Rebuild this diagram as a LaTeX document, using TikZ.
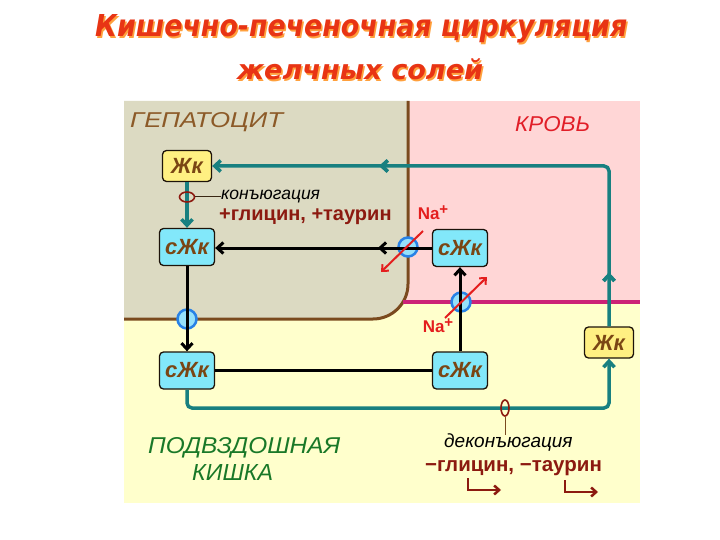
\documentclass[tikz,border=0pt]{standalone}
\usepackage{fontspec}
\usepackage{graphicx}
\setmainfont{Liberation Sans}
\newfontfamily\titlefont{DejaVu Sans}
\usetikzlibrary{arrows.meta,shapes.geometric,decorations.markings,calc}
\definecolor{bgY}{RGB}{255,255,204}
\definecolor{bgP}{RGB}{255,214,214}
\definecolor{bgH}{RGB}{220,218,194}
\definecolor{hepB}{RGB}{122,74,30}
\definecolor{magc}{RGB}{204,34,119}
\definecolor{tealc}{RGB}{24,128,128}
\definecolor{jkY}{RGB}{255,240,130}
\definecolor{szC}{RGB}{130,232,250}
\definecolor{txtB}{RGB}{122,70,20}
\definecolor{dred}{RGB}{140,26,16}
\definecolor{nared}{RGB}{228,30,30}
\definecolor{tblue}{RGB}{40,130,230}
\definecolor{tfill}{RGB}{150,225,250}
\definecolor{ilgreen}{RGB}{25,120,40}
\definecolor{hepT}{RGB}{140,90,40}
\definecolor{krov}{RGB}{225,30,40}
\definecolor{titR}{RGB}{232,52,20}
\definecolor{titO}{RGB}{255,160,60}
\tikzset{
  barb/.tip={Straight Barb[length=6pt,width=11pt]},
  boxbase/.style={draw=black!85!brown,line width=1.3pt,rounded corners=4pt,inner sep=0pt,
    font=\fontsize{22}{22}\selectfont\bfseries\itshape,text=txtB},
  jkbox/.style={boxbase,fill=jkY,minimum width=49pt,minimum height=31pt},
  szbox/.style={boxbase,fill=szC,minimum width=55pt,minimum height=37pt},
  tealline/.style={draw=tealc,line width=3.5pt,rounded corners=5pt},
  blackline/.style={draw=black,line width=3pt},
  transp/.style={circle,draw=tblue,fill=tfill,line width=2.5pt,minimum size=19pt,inner sep=0pt},
  redarrow/.style={draw=nared,line width=2pt,-{Straight Barb[length=5pt,width=9pt]}},
  naLabel/.style={text=nared,font=\fontsize{17}{17}\selectfont\bfseries,inner sep=0pt},
  ringstyle/.style={ellipse,draw=dred,line width=1.6pt,inner sep=0pt},
  midarrow/.style={postaction={decorate},decoration={markings,mark=at position #1 with {\arrow{barb}}}},
}
\newcommand{\naplus}{Na\raisebox{5pt}{\fontsize{15}{15}\selectfont\bfseries +}}
\begin{document}
\begin{tikzpicture}[x=1pt,y=-1pt]
\useasboundingbox (0,0) rectangle (720,540);
\fill[white] (0,0) rectangle (720,540);
% backgrounds
\fill[bgY] (124,101) rectangle (640,503);
\fill[bgP] (390,101) rectangle (640,302);
\fill[bgH] (124,101) -- (408,101) -- (408,284) arc[start angle=0,end angle=-90,radius=35pt] -- (124,319) -- cycle;
\draw[hepB,line width=3pt] (408,101) -- (408,284) arc[start angle=0,end angle=-90,radius=35pt] -- (124,319);
\draw[magc,line width=4pt] (403,302) -- (640,302);

% title
\node[anchor=base west,inner sep=0pt,text=titO] at (96.5,38.5) {\resizebox{532pt}{22pt}{\titlefont\bfseries\itshape Кишечно-печеночная циркуляция}};
\node[anchor=base west,inner sep=0pt,text=titR] (title1) at (95,37) {\resizebox{532pt}{22pt}{\titlefont\bfseries\itshape Кишечно-печеночная циркуляция}};
\node[anchor=base west,inner sep=0pt,text=titO] at (238.5,81.5) {\resizebox{246pt}{!}{\titlefont\bfseries\itshape желчных солей}};
\node[anchor=base west,inner sep=0pt,text=titR] (title2) at (237,80) {\resizebox{246pt}{!}{\titlefont\bfseries\itshape желчных солей}};

% region labels
\node[anchor=base west,inner sep=0pt,text=hepT] (hep) at (130,128) {\resizebox{153pt}{15pt}{\itshape ГЕПАТОЦИТ}};
\node[anchor=base west,inner sep=0pt,text=krov] (krov) at (515,132) {\resizebox{75pt}{15pt}{\itshape КРОВЬ}};
\node[anchor=base west,inner sep=0pt,text=ilgreen] (il1) at (148,453) {\resizebox{192pt}{16pt}{\itshape ПОДВЗДОШНАЯ}};
\node[anchor=base west,inner sep=0pt,text=ilgreen] (il2) at (192,480) {\resizebox{81pt}{16pt}{\itshape КИШКА}};

% boxes
\node[jkbox] (jkT) at (187,166) {Жк};
\node[szbox] (szL) at (187,247) {сЖк};
\node[szbox] (szB) at (460,248) {сЖк};
\node[szbox] (szBL) at (187,370.5) {сЖк};
\node[szbox] (szBR) at (460,370.5) {сЖк};
\node[jkbox] (jkR) at (609,342.5) {Жк};

% transporters
\node[transp] (t1) at (408,247) {};
\node[transp] (t2) at (461,302) {};
\node[transp] (t3) at (187,319) {};

% teal pathway
\coordinate (tb) at (400,408);
\draw[tealline,-barb,midarrow=54pt,midarrow=388pt] (jkR.north) |- (jkT.east);
\draw[tealline,-barb] (jkT.south) -- (szL.north);
\draw[tealline,-barb] (szBL.south) |- (tb) -| (jkR.south);

% black pathway
\draw[blackline,-barb,midarrow=54pt] (szB.west) -- (szB.west -| szL.east);
\draw[blackline,-barb] (szL.south) -- (szBL.north);
\draw[blackline] (szBL.east) -- (szBR.west);
\draw[blackline,-barb] (szBR.north) -- (szB.south);

% sodium cotransport
\coordinate (n1s) at ($(t1)+(15,-16)$);
\coordinate (n1e) at ($(t1)+(-27,25)$);
\draw[redarrow] (n1s) -- (n1e);
\coordinate (n2s) at ($(t2)+(-16,16)$);
\coordinate (n2e) at ($(t2)+(26,-25)$);
\draw[redarrow] (n2s) -- (n2e);
\node[naLabel] (na1) at (433,213) {\naplus};
\node[naLabel] (na2) at (438,326) {\naplus};

% conjugation
\node[ringstyle,minimum width=15pt,minimum height=10pt] (e1) at (187,197) {};
\node[anchor=base west,inner sep=0pt,font=\fontsize{17.5}{17.5}\selectfont\itshape] (konj) at (221,200) {конъюгация};
\draw[black!70!brown,line width=1pt] (e1.east) -- (e1.east -| konj.west);
\node[anchor=base west,inner sep=0pt,text=dred,font=\fontsize{20}{20}\selectfont\bfseries] (glyc) at (219,221) {+глицин, +таурин};

% deconjugation
\node[ringstyle,minimum width=8pt,minimum height=16pt] (e2) at (505,408) {};
\node[anchor=base west,inner sep=0pt,font=\fontsize{19}{19}\selectfont\itshape] (dek) at (444,447) {деконъюгация};
\draw[hepB,line width=1pt] (e2.south) -- ($(e2.south |- dek.north)+(0,2)$);
\node[anchor=base west,inner sep=0pt,text=dred,font=\fontsize{20.5}{20.5}\selectfont\bfseries] (dglyc) at (425,471) {−глицин, −таурин};
\coordinate (b1) at (468,478);
\coordinate (b1e) at (501,490);
\coordinate (b2) at (565,480);
\coordinate (b2e) at (598,492);
\draw[dred,line width=2.5pt,-{Straight Barb[length=5pt,width=9pt]}] (b1) |- (b1e);
\draw[dred,line width=2.5pt,-{Straight Barb[length=5pt,width=9pt]}] (b2) |- (b2e);
\end{tikzpicture}
\end{document}
